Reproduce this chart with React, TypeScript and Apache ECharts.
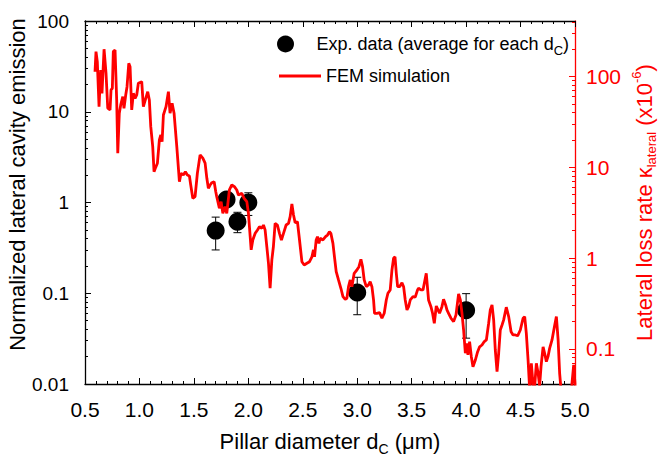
import React, { useEffect, useRef } from 'react';
import * as echarts from 'echarts';

// ---- experimental data (normalized lateral cavity emission) ----
const expDiameter = [1.7, 1.8, 1.9, 2.0, 3.0, 4.0];
const expValue = [0.49, 1.08, 0.615, 1.0, 0.102, 0.065];
const expLow = [0.3, 0.92, 0.465, 0.72, 0.058, 0.032];
const expHigh = [0.69, 1.25, 0.78, 1.28, 0.15, 0.099];

// ---- FEM simulation: [diameter (µm), lateral loss rate κ (x10^-6)] ----
const femCurve: [number, number][] = [
  [0.592, 113], [0.601, 188], [0.613, 146], [0.629, 46.5], [0.644, 118], [0.656, 65.3], [0.675, 200], [0.693, 109],
  [0.709, 44.7], [0.73, 42.8], [0.739, 71.1], [0.751, 74.2], [0.76, 188], [0.776, 196], [0.791, 55.2], [0.801, 14.3],
  [0.815, 39.4], [0.828, 48.6], [0.847, 60.0], [0.858, 44.7], [0.874, 62.6], [0.886, 77.3], [0.902, 140], [0.914, 128],
  [0.929, 42.8], [0.944, 65.3], [0.96, 57.5], [0.975, 62.6], [0.99, 84.3], [1.021, 87.7], [1.036, 46.5], [1.054, 55.2],
  [1.076, 68.1], [1.091, 55.2], [1.104, 28.0], [1.122, 16.9], [1.134, 8.94], [1.146, 9.75], [1.165, 11.1], [1.183, 20.0],
  [1.196, 22.7], [1.208, 19.1], [1.22, 37.7], [1.244, 46.5], [1.266, 68.1], [1.281, 39.4], [1.3, 50.7], [1.318, 39.4],
  [1.343, 16.9], [1.367, 6.94], [1.382, 8.59], [1.403, 8.22], [1.422, 8.94], [1.44, 8.22], [1.459, 8.02], [1.471, 6.38],
  [1.49, 4.55], [1.511, 4.74], [1.532, 8.59], [1.557, 13.7], [1.582, 12.6], [1.603, 11.1], [1.619, 7.56], [1.633, 5.87],
  [1.649, 6.38], [1.665, 6.76], [1.686, 6.94], [1.701, 5.38], [1.71, 4.74], [1.734, 3.53], [1.75, 4.18], [1.766, 3.11],
  [1.787, 3.68], [1.802, 3.11], [1.826, 5.62], [1.848, 6.38], [1.872, 6.11], [1.894, 5.62], [1.909, 4.95], [1.94, 5.17],
  [1.961, 4.55], [1.986, 4.18], [2.001, 3.11], [2.017, 1.72], [2.026, 1.23], [2.041, 1.58], [2.063, 1.87], [2.084, 2.04],
  [2.102, 2.21], [2.124, 2.13], [2.139, 2.31], [2.154, 2.04], [2.17, 1.33], [2.185, 0.875], [2.2, 0.464], [2.216, 0.952],
  [2.23, 1.33], [2.246, 2.41], [2.267, 2.31], [2.286, 1.87], [2.304, 1.58], [2.323, 1.87], [2.347, 2.31], [2.369, 2.41],
  [2.384, 2.86], [2.4, 3.94], [2.415, 2.98], [2.43, 2.45], [2.451, 2.51], [2.47, 1.58], [2.492, 0.911], [2.513, 0.838],
  [2.538, 0.875], [2.562, 0.911], [2.584, 1.03], [2.598, 1.23], [2.608, 1.03], [2.623, 1.58], [2.635, 1.72], [2.648, 1.45],
  [2.66, 1.65], [2.685, 1.58], [2.709, 1.72], [2.727, 1.79], [2.745, 1.95], [2.758, 1.87], [2.777, 1.45], [2.791, 1.03],
  [2.807, 0.707], [2.828, 0.573], [2.85, 0.464], [2.869, 0.375], [2.89, 0.351], [2.905, 0.36], [2.92, 0.483], [2.936, 0.573],
  [2.951, 0.483], [2.972, 0.679], [2.997, 0.738], [3.016, 0.803], [3.034, 0.969], [3.049, 0.803], [3.064, 0.573], [3.083, 0.483],
  [3.104, 0.505], [3.119, 0.549], [3.135, 0.483], [3.15, 0.345], [3.159, 0.246], [3.181, 0.246], [3.205, 0.25], [3.227, 0.217],
  [3.248, 0.246], [3.267, 0.345], [3.282, 0.409], [3.303, 0.445], [3.319, 0.738], [3.334, 0.993], [3.347, 1.03], [3.359, 0.679],
  [3.371, 0.483], [3.389, 0.483], [3.411, 0.535], [3.426, 0.483], [3.441, 0.345], [3.457, 0.268], [3.472, 0.291], [3.487, 0.345],
  [3.512, 0.375], [3.533, 0.37], [3.554, 0.445], [3.563, 0.464], [3.585, 0.445], [3.604, 0.445], [3.634, 0.679], [3.655, 0.345],
  [3.677, 0.291], [3.692, 0.246], [3.708, 0.191], [3.726, 0.296], [3.742, 0.268], [3.756, 0.246], [3.778, 0.291], [3.793, 0.351],
  [3.812, 0.304], [3.824, 0.268], [3.839, 0.246], [3.861, 0.217], [3.885, 0.199], [3.907, 0.236], [3.931, 0.402], [3.947, 0.345],
  [3.962, 0.246], [3.977, 0.161], [3.993, 0.0892], [4.008, 0.115], [4.017, 0.0855], [4.032, 0.12], [4.048, 0.0818], [4.063, 0.0635],
  [4.085, 0.0752], [4.106, 0.0929], [4.124, 0.105], [4.146, 0.11], [4.167, 0.12], [4.186, 0.125], [4.207, 0.191], [4.222, 0.268],
  [4.238, 0.304], [4.253, 0.208], [4.268, 0.097], [4.284, 0.0559], [4.299, 0.0892], [4.314, 0.161], [4.33, 0.183], [4.345, 0.208],
  [4.369, 0.287], [4.391, 0.226], [4.413, 0.154], [4.431, 0.142], [4.452, 0.142], [4.473, 0.139], [4.498, 0.161], [4.523, 0.217],
  [4.538, 0.226], [4.553, 0.148], [4.569, 0.0752], [4.584, 0.0352], [4.599, 0.0692], [4.615, 0.0399], [4.63, 0.039], [4.645, 0.0692],
  [4.661, 0.0541], [4.675, 0.039], [4.688, 0.0635], [4.707, 0.105], [4.721, 0.0892], [4.737, 0.0721], [4.752, 0.0818], [4.767, 0.101],
  [4.789, 0.125], [4.811, 0.175], [4.829, 0.226], [4.845, 0.125], [4.859, 0.0537], [4.872, 0.0352], [4.893, 0.0273], [4.958, 0.0273],
  [4.988, 0.0663], [5.004, 0.035],
];

// ---- axes ----
const xMin = 0.5;
const xMax = 5.0;
const xStep = 0.5;
const xTickLabels = ['0.5', '1.0', '1.5', '2.0', '2.5', '3.0', '3.5', '4.0', '4.5', '5.0'];

const leftMin = 0.01;
const leftMax = 100;
const leftTickValues = [0.01, 0.1, 1, 10, 100];
const leftTickLabels = ['0.01', '0.1', '1', '10', '100'];
const leftMinorTicks = [
  0.02, 0.03, 0.04, 0.05, 0.06, 0.07, 0.08, 0.09,
  0.2, 0.3, 0.4, 0.5, 0.6, 0.7, 0.8, 0.9,
  2, 3, 4, 5, 6, 7, 8, 9,
  20, 30, 40, 50, 60, 70, 80, 90,
];

const rightMin = 0.0409;
const rightMax = 409;
const rightTickValues = [0.1, 1, 10, 100];
const rightTickLabels = ['0.1', '1', '10', '100'];
const rightMinorTicks = [
  0.05, 0.06, 0.07, 0.08, 0.09,
  0.2, 0.3, 0.4, 0.5, 0.6, 0.7, 0.8, 0.9,
  2, 3, 4, 5, 6, 7, 8, 9,
  20, 30, 40, 50, 60, 70, 80, 90,
  200, 300, 400,
];

const EXP_NAME = 'Exp. data (average for each dC)';
const FEM_NAME = 'FEM simulation';
const FONT = 'Liberation Sans, Arial, Helvetica, sans-serif';
const RED = '#ff0000';

function logLabel(values: number[], labels: string[]) {
  return (v: number) => {
    for (let i = 0; i < values.length; i++) {
      if (Math.abs(Math.log10(v) - Math.log10(values[i])) < 1e-6) return labels[i];
    }
    return '';
  };
}

function buildOption(): any {
  const errData = expDiameter.map((d, i) => [d, expValue[i], expLow[i], expHigh[i]]);
  const expData = expDiameter.map((d, i) => [d, expValue[i]]);

  const minorYAxis = (pos: 'left' | 'right', min: number, max: number, ticks: number[], color: string) => ({
    type: 'log',
    position: pos,
    min,
    max,
    offset: 0,
    axisLine: { show: false },
    axisLabel: { show: false },
    splitLine: { show: false },
    axisTick: { show: true, inside: true, length: 3, customValues: ticks, lineStyle: { color, width: 1 } },
  });

  return {
    animation: false,
    backgroundColor: '#ffffff',
    textStyle: { fontFamily: FONT },
    grid: { left: 85, right: 85, top: 21, bottom: 75, containLabel: false, outerBoundsMode: 'none' },
    legend: [
      {
        data: [{ name: EXP_NAME, icon: 'circle' }],
        left: 272,
        top: 26,
        itemWidth: 38,
        itemHeight: 17,
        selectedMode: false,
        formatter: () => 'Exp. data (average for each d{sub|C})',
        itemStyle: { opacity: 1 },
        textStyle: {
          fontSize: 18,
          color: '#000',
          fontFamily: FONT,
          lineHeight: 26,
          padding: [0, 0, 0, 7],
          rich: {
            sub: { fontSize: 13, fontFamily: FONT, color: '#000', lineHeight: 26, verticalAlign: 'bottom' },
          },
        },
      },
      {
        data: [{ name: FEM_NAME, icon: 'rect' }],
        left: 274,
        top: 62,
        itemWidth: 42,
        itemHeight: 3,
        selectedMode: false,
        textStyle: { fontSize: 18, color: '#000', fontFamily: FONT },
      },
    ],
    xAxis: [
      {
        type: 'value',
        position: 'bottom',
        min: xMin,
        max: xMax,
        interval: xStep,
        name: 'Pillar diameter d{sub|C} (μm)',
        nameLocation: 'middle',
        nameGap: 42,
        nameMoveOverlap: false,
        nameTextStyle: {
          fontSize: 22,
          color: '#000',
          fontFamily: FONT,
          lineHeight: 30,
          rich: { sub: { fontSize: 14, fontFamily: FONT, color: '#000', lineHeight: 30, verticalAlign: 'bottom' } },
        },
        axisLine: { show: true, onZero: false, lineStyle: { color: '#000', width: 1.3 } },
        axisTick: { show: true, inside: true, length: 6, lineStyle: { color: '#000', width: 1 } },
        minorTick: { show: true, splitNumber: 5, length: 3, lineStyle: { color: '#000', width: 1 } },
        axisLabel: {
          fontSize: 21,
          color: '#000',
          fontFamily: FONT,
          margin: 15,
          formatter: (v: number) => xTickLabels[Math.round((v - xMin) / xStep)] ?? '',
        },
        splitLine: { show: false },
      },
      {
        type: 'value',
        position: 'top',
        min: xMin,
        max: xMax,
        interval: xStep,
        axisLine: { show: true, onZero: false, lineStyle: { color: '#000', width: 1.3 } },
        axisTick: { show: true, inside: true, length: 6, lineStyle: { color: '#000', width: 1 } },
        minorTick: { show: true, splitNumber: 5, length: 3, lineStyle: { color: '#000', width: 1 } },
        axisLabel: { show: false },
        splitLine: { show: false },
      },
    ],
    yAxis: [
      {
        type: 'log',
        position: 'left',
        min: leftMin,
        max: leftMax,
        name: 'Normalized lateral cavity emission',
        nameLocation: 'middle',
        nameGap: 57,
        nameMoveOverlap: false,
        nameTextStyle: { fontSize: 22, color: '#000', fontFamily: FONT, padding: [0, 0, 0, 36] },
        axisLine: { show: true, onZero: false, lineStyle: { color: '#000', width: 1.3 } },
        axisTick: { show: true, inside: true, length: 6, customValues: leftTickValues, lineStyle: { color: '#000', width: 1 } },
        axisLabel: {
          fontSize: 19,
          color: '#000',
          fontFamily: FONT,
          margin: 16,
          customValues: leftTickValues,
          formatter: logLabel(leftTickValues, leftTickLabels),
        },
        splitLine: { show: false },
      },
      {
        type: 'log',
        position: 'right',
        min: rightMin,
        max: rightMax,
        name: 'Lateral loss rate κ{sub|lateral} (x10{sup|-6})',
        nameLocation: 'middle',
        nameGap: 55,
        nameMoveOverlap: false,
        nameTextStyle: {
          fontSize: 22,
          color: RED,
          fontFamily: FONT,
          lineHeight: 28,
          rich: {
            sub: { fontSize: 13, color: RED, fontFamily: FONT, lineHeight: 28, verticalAlign: 'bottom' },
            sup: { fontSize: 13, color: RED, fontFamily: FONT, lineHeight: 28, verticalAlign: 'top' },
          },
        },
        axisLine: { show: true, onZero: false, lineStyle: { color: RED, width: 1.3 } },
        axisTick: { show: true, inside: true, length: 6, customValues: rightTickValues, lineStyle: { color: RED, width: 1 } },
        axisLabel: {
          fontSize: 21,
          color: RED,
          fontFamily: FONT,
          margin: 11,
          customValues: rightTickValues,
          formatter: logLabel(rightTickValues, rightTickLabels),
        },
        splitLine: { show: false },
      },
      minorYAxis('left', leftMin, leftMax, leftMinorTicks, '#000'),
      minorYAxis('right', rightMin, rightMax, rightMinorTicks, RED),
    ],
    series: [
      {
        name: EXP_NAME,
        type: 'scatter',
        xAxisIndex: 0,
        yAxisIndex: 0,
        symbol: 'circle',
        symbolSize: 18,
        itemStyle: { color: '#000', opacity: 1 },
        data: expData,
        z: 2,
      },
      {
        name: 'error',
        type: 'custom',
        xAxisIndex: 0,
        yAxisIndex: 0,
        encode: { x: 0, y: [1, 2, 3] },
        data: errData,
        z: 3,
        renderItem: (params: any, api: any) => {
          const x = api.value(0);
          const lo = api.coord([x, api.value(2)]);
          const hi = api.coord([x, api.value(3)]);
          const w = 4;
          const style = { stroke: '#000', lineWidth: 1 };
          return {
            type: 'group',
            children: [
              { type: 'line', shape: { x1: hi[0], y1: hi[1], x2: lo[0], y2: lo[1] }, style },
              { type: 'line', shape: { x1: hi[0] - w, y1: hi[1], x2: hi[0] + w, y2: hi[1] }, style },
              { type: 'line', shape: { x1: lo[0] - w, y1: lo[1], x2: lo[0] + w, y2: lo[1] }, style },
            ],
          };
        },
      },
      {
        name: FEM_NAME,
        type: 'line',
        xAxisIndex: 0,
        yAxisIndex: 1,
        data: femCurve,
        symbol: 'none',
        showSymbol: false,
        clip: true,
        lineStyle: { color: RED, width: 2.8 },
        itemStyle: { color: RED },
        z: 4,
      },
    ],
  };
}

export default function App() {
  const ref = useRef<HTMLDivElement>(null);
  useEffect(() => {
    if (!ref.current) return;
    const chart = echarts.init(ref.current, null, { renderer: 'svg' });
    chart.setOption(buildOption());
    return () => chart.dispose();
  }, []);
  return (
    <div
      ref={ref}
      style={{ position: 'fixed', left: 0, top: 0, width: 660, height: 459, background: '#fff' }}
    />
  );
}
